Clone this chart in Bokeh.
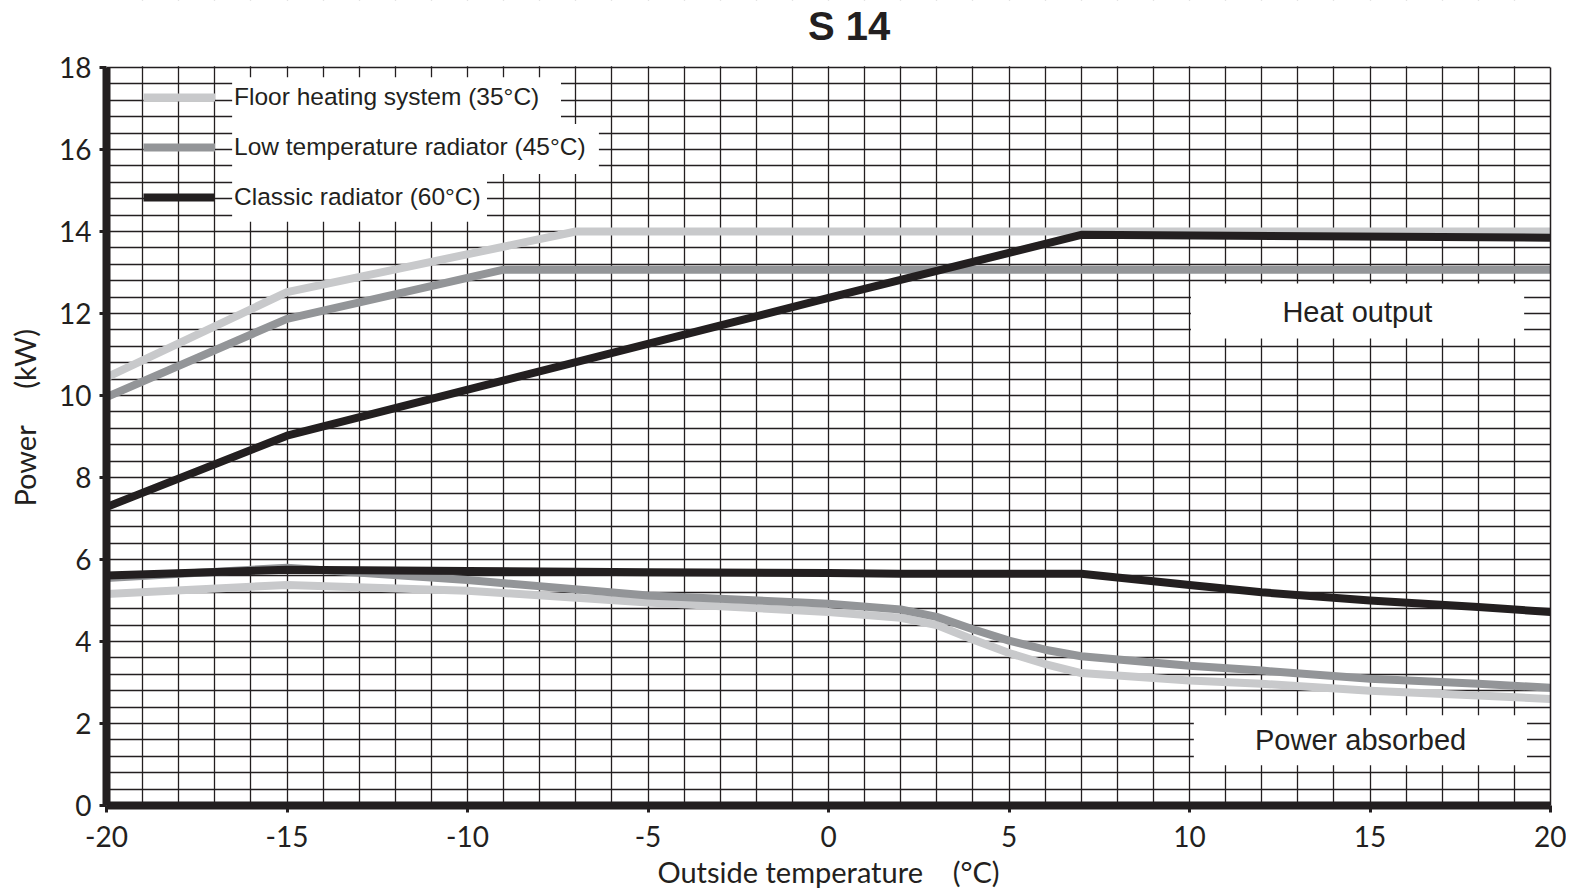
from bokeh.plotting import figure
from bokeh.models import (Range1d, FixedTicker, Legend, LegendItem, BoxAnnotation, Label, Span,
                          LinearAxis)
from bokeh.embed import file_html
from bokeh.resources import INLINE

# ---------------- data ----------------
x_ticks = [-20, -15, -10, -5, 0, 5, 10, 15, 20]
y_ticks = [0, 2, 4, 6, 8, 10, 12, 14, 16, 18]

series_names = ["Floor heating system (35°C)",
                "Low temperature radiator (45°C)",
                "Classic radiator (60°C)"]

# Heat output (kW)
heat_floor_t = [-20, -15, -7, 20]
heat_floor = [10.44, 12.52, 14.0, 14.0]
heat_low_t = [-20, -15, -9, 20]
heat_low = [9.96, 11.87, 13.07, 13.07]
heat_classic_t = [-20, -15, 0, 7, 20]
heat_classic = [7.28, 9.02, 12.38, 13.92, 13.85]

# Power absorbed (kW)
abs_t = [-20, -15, -10, -5, 0, 2, 3, 4, 5, 6, 7, 10, 12, 15, 18, 20]
abs_floor = [5.16, 5.38, 5.24, 4.95, 4.72, 4.58, 4.40, 4.05, 3.72, 3.45, 3.23, 3.05, 2.97, 2.80, 2.68, 2.60]
abs_low = [5.55, 5.80, 5.50, 5.12, 4.92, 4.78, 4.60, 4.30, 4.02, 3.80, 3.64, 3.41, 3.29, 3.09, 2.97, 2.87]
abs_classic = [5.61, 5.75, 5.72, 5.69, 5.67, 5.65, 5.65, 5.65, 5.65, 5.65, 5.65, 5.38, 5.20, 5.00, 4.84, 4.72]

# ---------------- style ----------------
C_LIGHT = "#c8c9cb"
C_MED = "#939598"
C_DARK = "#231f20"
INK = "#231f20"
AX_FONT = "Lato"
TX_FONT = "Liberation Sans"
NB = "\u00a0"

PX_PER_KW = 738 / 18          # vertical scale of the chart area
FRAME_H = 805                 # frame reaches the top of the page (room for the title)
Y_TOP = FRAME_H / PX_PER_KW

p = figure(frame_width=1444, frame_height=FRAME_H,
           min_border_left=106, min_border_top=0, min_border_right=16, min_border_bottom=0,
           x_range=Range1d(-20, 20), y_range=Range1d(0, Y_TOP),
           output_backend="svg", toolbar_location=None, title=None)
p.background_fill_color = "white"
p.border_fill_color = "white"
p.outline_line_color = None

# grid
p.xgrid.ticker = FixedTicker(ticks=list(range(-19, 20)))
p.ygrid.ticker = FixedTicker(ticks=[round(0.4 * k, 1) for k in range(1, 45)])
for g in (p.xgrid, p.ygrid):
    g.grid_line_color = INK
    g.grid_line_width = 1.3
    g.grid_line_alpha = 1.0

# axes
p.xaxis.ticker = FixedTicker(ticks=x_ticks)
p.yaxis.ticker = FixedTicker(ticks=y_ticks)
p.yaxis.bounds = (0, 18)
p.xaxis.major_label_overrides = {v: str(v) for v in x_ticks}
p.yaxis.major_label_overrides = {v: str(v) for v in y_ticks}
for ax in (p.xaxis, p.yaxis):
    ax.axis_line_color = INK
    ax.axis_line_width = 8
    ax.major_tick_line_color = INK
    ax.major_tick_line_width = 3
    ax.major_tick_out = 7
    ax.major_tick_in = 0
    ax.minor_tick_line_color = None
    ax.major_label_text_font = AX_FONT
    ax.major_label_text_font_size = "28px"
    ax.major_label_text_color = INK
    ax.axis_label_text_font = AX_FONT
    ax.axis_label_text_font_size = "29px"
    ax.axis_label_text_font_style = "normal"
    ax.axis_label_text_color = INK
p.xaxis.major_label_standoff = 13
p.yaxis.major_label_standoff = 8
p.xaxis.axis_label = "Outside temperature" + NB * 3 + " (°C)"
p.yaxis.axis_label = "Power" + NB * 4 + " (kW)" + NB * 4
p.xaxis.axis_label_standoff = 4
p.yaxis.axis_label_standoff = 14

# right border of the chart
rax = LinearAxis(ticker=FixedTicker(ticks=[]), bounds=(0, 18), axis_line_color=INK,
                 axis_line_width=1.5, major_tick_line_color=None, minor_tick_line_color=None)
p.add_layout(rax, "right")

# white area above the chart, and the chart's top border
p.add_layout(BoxAnnotation(bottom=18.03, top=Y_TOP + 1, fill_color="white", fill_alpha=1.0,
                           line_alpha=0))
p.add_layout(Span(location=18, dimension="width", line_color=INK, line_width=1.5))

# title
p.add_layout(Label(x=0.57, y=19.02, text="S 14", text_align="center", text_baseline="middle",
                   text_font=TX_FONT, text_font_size="40px", text_font_style="bold",
                   text_color=INK))

# white boxes behind the texts (legend labels and annotations)
def white_box(l, r, b, tp):
    box = BoxAnnotation(left=l, right=r, bottom=b, top=tp, fill_color="white", fill_alpha=1.0,
                        line_alpha=0, level="underlay")
    p.add_layout(box)

white_box(-16.52, -7.41, 16.62, 17.76)
white_box(-16.52, -6.36, 15.40, 16.62)
white_box(-16.52, -9.46, 14.24, 15.40)
white_box(10.04, 19.27, 11.39, 12.73)
white_box(10.12, 19.35, 0.98, 2.20)

# lines
LW = 8
r1 = p.line(heat_floor_t, heat_floor, line_color=C_LIGHT, line_width=LW, line_join="round")
r2 = p.line(heat_low_t, heat_low, line_color=C_MED, line_width=LW, line_join="round")
r3 = p.line(heat_classic_t, heat_classic, line_color=C_DARK, line_width=LW, line_join="round")
p.line(abs_t, abs_floor, line_color=C_LIGHT, line_width=LW, line_join="round")
p.line(abs_t, abs_low, line_color=C_MED, line_width=LW, line_join="round")
p.line(abs_t, abs_classic, line_color=C_DARK, line_width=LW, line_join="round")

legend = Legend(items=[LegendItem(label=series_names[0], renderers=[r1]),
                       LegendItem(label=series_names[1], renderers=[r2]),
                       LegendItem(label=series_names[2], renderers=[r3])],
                location=(37, 593), orientation="vertical",
                glyph_width=72, glyph_height=30, label_height=30, label_standoff=19,
                spacing=20, padding=0, margin=0,
                background_fill_alpha=0, border_line_alpha=0,
                label_text_font=TX_FONT, label_text_font_size="24.5px", label_text_color=INK)
p.add_layout(legend, "center")

p.add_layout(Label(x=14.65, y=12.04, text="Heat output", text_align="center",
                   text_baseline="middle", text_font=TX_FONT, text_font_size="29px",
                   text_color=INK))
p.add_layout(Label(x=14.74, y=1.6, text="Power absorbed", text_align="center",
                   text_baseline="middle", text_font=TX_FONT, text_font_size="29px",
                   text_color=INK))

open("out.html", "w").write(file_html(p, INLINE))
